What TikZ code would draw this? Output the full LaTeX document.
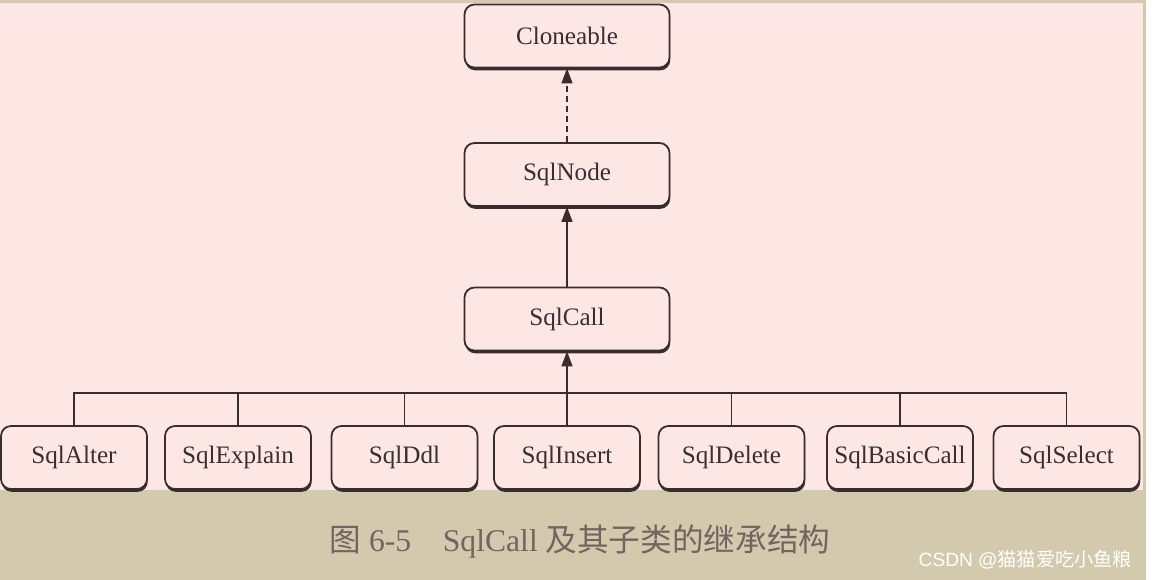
\documentclass[tikz,border=0pt]{standalone}
\usepackage{fontspec}
\setmainfont{Liberation Serif}
\newfontfamily\cjk{Noto Sans CJK SC}
\usepackage{tikz}
\usetikzlibrary{arrows.meta, positioning, shadows}
\definecolor{bgpink}{HTML}{FDE7E5}
\definecolor{bandtan}{HTML}{D3CAAE}
\definecolor{umlline}{HTML}{3B2B2A}
\definecolor{umltext}{HTML}{3A2E2E}
\definecolor{captext}{HTML}{736462}

\begin{document}
\begin{tikzpicture}[
    % Class boxes
    classbox/.style={rectangle, rounded corners=0.2cm, draw=umlline, line width=1pt, fill=bgpink, minimum width=4.1cm, minimum height=1.26cm, text=umltext, font=\fontsize{14.3}{16}\selectfont, drop shadow={shadow xshift=0.4pt, shadow yshift=-1.6pt, fill=umlline, opacity=1}},
    subbox/.style={classbox, minimum width=2.92cm},
    % Connectors
    extendsarrow/.style={draw=umlline, line width=0.8pt, -{Triangle[length=0.3cm, width=0.22cm]}},
    implarrow/.style={extendsarrow, dash pattern=on 3.5pt off 2.2pt},
    busline/.style={draw=umlline, line width=0.8pt}
]
    \useasboundingbox (0,0) rectangle (23.08,-11.6);

    % Background
    \fill[white] (0,0) rectangle (23.08,-11.6);
    \fill[bandtan] (0,0) rectangle (22.92,-11.6);
    \fill[bgpink] (0,-0.05) rectangle (22.86,-9.8);

    % Top of the hierarchy
    \node[classbox] (cloneable) at (11.34,-0.72) {Cloneable};
    \node[classbox] (sqlnode) at (11.34,-3.49) {SqlNode};
    \node[classbox] (sqlcall) at (11.34,-6.38) {SqlCall};

    % Subclasses
    \foreach \name/\x/\label in {alter/1.48/SqlAlter, explain/4.76/SqlExplain, ddl/8.09/SqlDdl, insert/11.34/SqlInsert, delete/14.63/SqlDelete, basiccall/18.0/SqlBasicCall, select/21.33/SqlSelect}
        \node[subbox] (\name) at (\x,-9.15) {\label};

    % Inheritance
    \draw[implarrow] (sqlnode) -- (cloneable);
    \draw[extendsarrow] (sqlnode.north |- sqlcall.north) -- (sqlnode);
    \coordinate (bus) at (11.34,-7.86);
    \draw[busline] (alter.north) |- (bus) -| (select.north);
    \foreach \name in {explain, ddl, delete, basiccall}
        \draw[busline] (\name.north) -- (\name.north |- bus);
    \draw[extendsarrow] (insert) -- (sqlcall);

    % Caption
    \node[text=captext, font=\fontsize{18}{20}\selectfont] (caption) at (11.6,-10.83) {{\cjk 图} 6-5\quad SqlCall {\cjk 及其子类的继承结构}};
    \node[text=white, font=\fontsize{10.9}{12}\sffamily, anchor=east] (mark) at (22.76,-11.2) {\fontspec{Liberation Sans}CSDN @{\cjk 猫猫爱吃小鱼粮}};
\end{tikzpicture}
\end{document}
